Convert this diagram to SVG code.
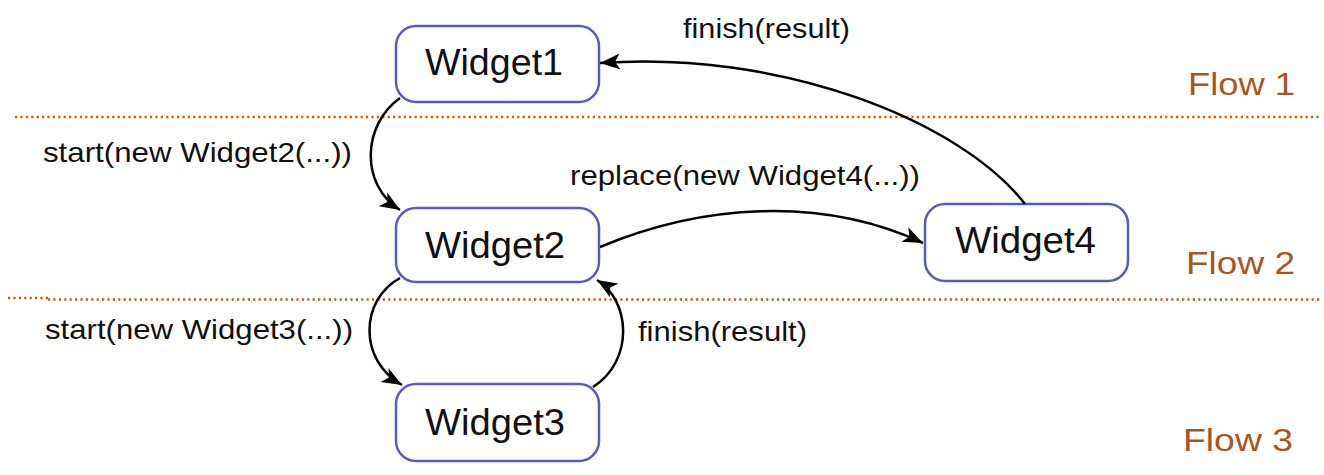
<svg xmlns="http://www.w3.org/2000/svg" width="1324" height="475" viewBox="0 0 1324 475">
<style>
.box{fill:#fff;stroke:#5a5ac0;stroke-width:2.5}
.wt{font-family:"Liberation Sans",Arial,sans-serif;font-size:37px;fill:#111}
.lb{font-family:"Liberation Sans",Arial,sans-serif;font-size:28px;fill:#111}
.fl{font-family:"Liberation Sans",Arial,sans-serif;font-size:32px;fill:#a8561f}
.sep{stroke:#b5631f;stroke-width:2.5;stroke-dasharray:2.2 3.2;fill:none}
.con{fill:none;stroke:#000;stroke-width:2.5}
</style>
<defs>
<marker id="ah" markerUnits="userSpaceOnUse" markerWidth="22" markerHeight="18" viewBox="0 0 22 18" refX="20" refY="9" orient="auto">
<path d="M0,1 L20,9 L0,17 L5,9 z" fill="#000"/>
</marker>
</defs>
<g id="separators">
<line class="sep" x1="15" y1="117" x2="1320" y2="117"/>
<line class="sep" x1="8" y1="298" x2="48" y2="298"/>
<line class="sep" x1="48" y1="299.5" x2="1320" y2="299.5"/>
</g>
<g id="flow-labels">
<text class="fl" x="1188" y="95" textLength="107" lengthAdjust="spacingAndGlyphs">Flow 1</text>
<text class="fl" x="1186" y="274" textLength="109" lengthAdjust="spacingAndGlyphs">Flow 2</text>
<text class="fl" x="1183" y="451" textLength="110" lengthAdjust="spacingAndGlyphs">Flow 3</text>
</g>
<g id="widget1">
<rect class="box" x="396" y="26" width="203" height="76" rx="20"/>
<text class="wt" x="425" y="75" textLength="138" lengthAdjust="spacingAndGlyphs">Widget1</text>
</g>
<g id="widget2">
<rect class="box" x="396" y="208" width="203" height="74" rx="20"/>
<text class="wt" x="425" y="258" textLength="140" lengthAdjust="spacingAndGlyphs">Widget2</text>
</g>
<g id="widget3">
<rect class="box" x="396" y="384" width="203" height="77" rx="20"/>
<text class="wt" x="425" y="435" textLength="140" lengthAdjust="spacingAndGlyphs">Widget3</text>
</g>
<g id="widget4">
<rect class="box" x="925" y="204" width="203" height="77" rx="20"/>
<text class="wt" x="955" y="253" textLength="141" lengthAdjust="spacingAndGlyphs">Widget4</text>
</g>
<g id="connectors">
<path class="con" d="M400,98 C362,125 360,185 400,210" marker-end="url(#ah)"/>
<path class="con" d="M400,278 C360,300 358,360 402,385" marker-end="url(#ah)"/>
<path class="con" d="M593,387 C635,360 630,300 597,280" marker-end="url(#ah)"/>
<path class="con" d="M600,247 C700,205 820,195 923,243" marker-end="url(#ah)"/>
<path class="con" d="M1025,204 C960,120 780,50 600,63" marker-end="url(#ah)"/>
</g>
<g id="connector-labels">
<text class="lb" x="43" y="162" textLength="309" lengthAdjust="spacingAndGlyphs">start(new Widget2(...))</text>
<text class="lb" x="45" y="339" textLength="308" lengthAdjust="spacingAndGlyphs">start(new Widget3(...))</text>
<text class="lb" x="683" y="38" textLength="167" lengthAdjust="spacingAndGlyphs">finish(result)</text>
<text class="lb" x="638" y="341" textLength="169" lengthAdjust="spacingAndGlyphs">finish(result)</text>
<text class="lb" x="570" y="185" textLength="350" lengthAdjust="spacingAndGlyphs">replace(new Widget4(...))</text>
</g>
</svg>
